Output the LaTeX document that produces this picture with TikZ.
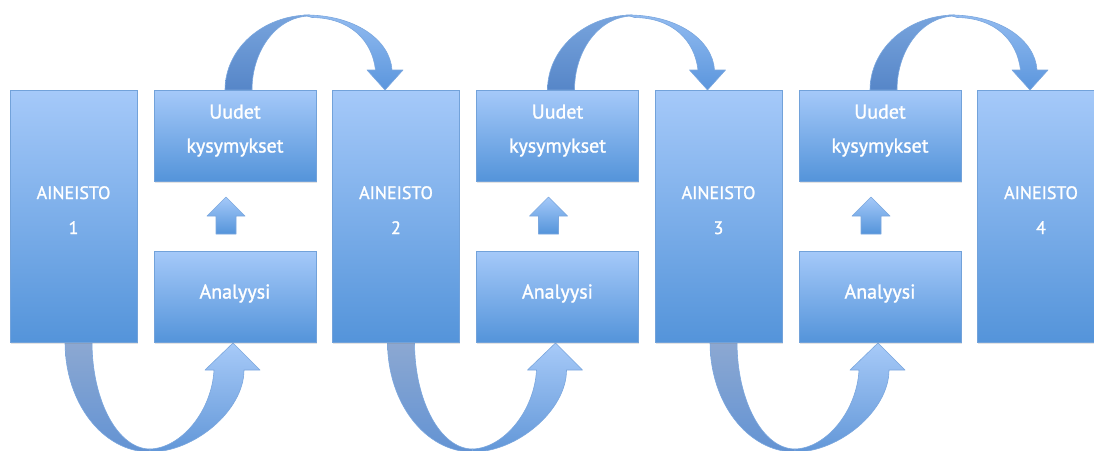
\documentclass[tikz,border=0pt]{standalone}
\usepackage{fontspec}
\newfontfamily\lblfont[FakeBold=1.3]{PT Sans}
\usetikzlibrary{calc,shadows}

\definecolor{boxtop}{HTML}{A5C9F9}
\definecolor{boxbot}{HTML}{5494DA}
\definecolor{boxline}{HTML}{72A2DA}
\definecolor{arrline}{HTML}{7BA7DE}
\definecolor{backtop}{HTML}{78A4DD}
\definecolor{backbot}{HTML}{5686C8}
\definecolor{fronttop}{HTML}{92BBF0}
\definecolor{frontbot}{HTML}{5B96DD}
\definecolor{lowbacktop}{HTML}{8CA8D2}
\definecolor{lowbackbot}{HTML}{6393D3}
\definecolor{lowfronttop}{HTML}{A7CAF8}
\definecolor{lowfrontbot}{HTML}{6297D8}

\begin{document}
\begin{tikzpicture}[x=1pt,y=-1pt,
  blk/.style={draw=boxline, line width=0.8pt, top color=boxtop, bottom color=boxbot,
    inner sep=0pt, outer sep=0pt,
    drop shadow={opacity=0.22, shadow xshift=0.8pt, shadow yshift=-1.8pt}},
  tall/.style={blk, minimum width=127pt, minimum height=252pt},
  wide/.style={blk, minimum width=162pt, minimum height=91pt},
  lbl/.style={font=\lblfont\fontsize{20}{20}\selectfont, text=white, anchor=base, inner sep=0pt},
  caplbl/.style={lbl, font=\lblfont\fontsize{18}{18}\selectfont},
  arr/.style={draw=arrline, line width=0.6pt, line join=round},
  backpart/.style={arr, top color=backtop, bottom color=backbot},
  frontpart/.style={arr, top color=fronttop, bottom color=frontbot},
  lowback/.style={arr, top color=lowbacktop, bottom color=lowbackbot},
  lowfront/.style={arr, top color=lowfronttop, bottom color=lowfrontbot},
  uparr/.style={arr, top color=boxtop, bottom color=boxbot}]
\useasboundingbox (0,0) rectangle (1094,450);

% anchor coordinates for the material boxes and the question/analysis pairs
\foreach \k in {1,...,4}
  \coordinate (ca\k) at ({73.5+322.5*(\k-1)},216);
\foreach \k in {1,2,3} {
  \coordinate (cu\k) at ({235+322.5*(\k-1)},135.5);
  \coordinate (cn\k) at ({235+322.5*(\k-1)},296.5);
}

% invisible placeholders so the curved arrows can be anchored before the boxes are painted
\foreach \k in {1,...,4}
  \node[minimum width=127pt, minimum height=252pt, inner sep=0pt, outer sep=0pt] (pa\k) at (ca\k) {};
\foreach \k in {1,2,3} {
  \node[minimum width=162pt, minimum height=91pt, inner sep=0pt, outer sep=0pt] (pu\k) at (cu\k) {};
  \node[minimum width=162pt, minimum height=91pt, inner sep=0pt, outer sep=0pt] (pn\k) at (cn\k) {};
}

% curved arrows over the top: new questions -> next material
\foreach \k in {1,2,3} {
  \begin{scope}[shift={(pu\k.north west)}]
    \path[backpart] (71,0) .. controls (71,-41.4) and (109,-75) .. (156,-75)
      -- (156,-74) .. controls (124,-74) and (98,-41) .. (98,0) -- cycle;
    \path[frontpart] (150,-75) .. controls (201,-75.5) and (236,-50) .. (238,-20)
      -- (249,-20) -- (231,0) -- (213,-20) -- (221.5,-20)
      .. controls (218,-50) and (196,-72) .. (158,-72.5) -- cycle;
  \end{scope}
}

% curved arrows underneath: material -> analysis
\foreach \k in {1,2,3} {
  \begin{scope}[shift={(pa\k.south west)}]
    \path[lowback] (55,0) .. controls (55,61) and (93,110) .. (140,110)
      -- (140,107) .. controls (108,107) and (82,59) .. (82,0) -- cycle;
    \path[lowfront] (140,110) .. controls (185,110) and (234,68) .. (234,28)
      -- (250,28) -- (223,1) -- (195,28) -- (204,28)
      .. controls (202,68) and (172,106) .. (140,107) -- cycle;
  \end{scope}
}

% boxes
\foreach \k in {1,...,4} {
  \node[tall] (a\k) at (ca\k) {};
  \node[caplbl] (ta\k) at ($(a\k.center)+(0,-17)$) {AINEISTO};
  \node[caplbl] (na\k) at ($(a\k.center)+(0,18)$) {\k};
}
\foreach \k in {1,2,3} {
  \node[wide] (u\k) at (cu\k) {};
  \node[lbl] (tu\k) at ($(u\k.center)+(0,-17)$) {Uudet};
  \node[lbl] (ku\k) at ($(u\k.center)+(0,17)$) {kysymykset};
  \node[wide] (n\k) at (cn\k) {};
  \node[lbl] (tn\k) at ($(n\k.center)+(0,2)$) {Analyysi};
  % small block arrow: analysis -> new questions
  \begin{scope}[shift={(n\k.north west)}]
    \path[uparr] (72,-54) -- (91,-35) -- (82,-35) -- (82,-17) -- (62,-17)
      -- (62,-35) -- (53,-35) -- cycle;
  \end{scope}
}
\end{tikzpicture}
\end{document}
